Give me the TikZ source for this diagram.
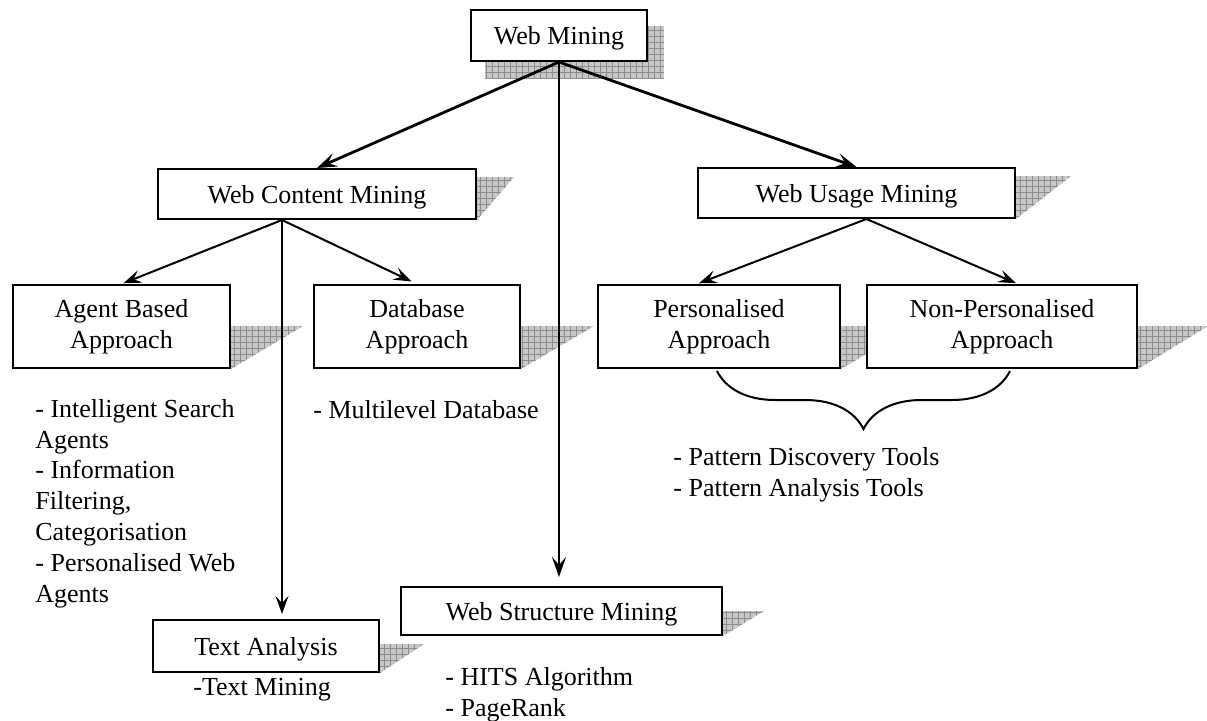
\documentclass[tikz,border=0pt]{standalone}
\usepackage{fontspec}
\setmainfont{Liberation Serif}
\usetikzlibrary{arrows.meta,calc,patterns,backgrounds,decorations.pathreplacing}

\begin{document}
\begin{tikzpicture}[
  x=0.5pt,y=-0.5pt,
  font=\fontsize{13}{15.4}\selectfont,
  bx/.style={draw,line width=1pt,fill=white,align=center,inner sep=0pt},
  bx1/.style={bx,text depth=0pt},
  sh/.style={preaction={fill=black!22},pattern=grid,pattern color=black!45},
  ar/.style={-{Stealth[length=10pt,width=7pt,inset=4pt]},line width=1.4pt},
  ar2/.style={-{Stealth[length=9pt,width=6.5pt,inset=3.5pt]},line width=1pt,shorten >=1pt},
  lst/.style={anchor=base west,align=left,inner sep=0pt},
  brc/.style={decorate,decoration={brace,mirror,amplitude=29pt},line width=1pt}]
\useasboundingbox (0,0) rectangle (1207,720);

% top
\node[bx1,minimum width=88pt,minimum height=25.5pt] (wm) at (559,35.5) {Web Mining};

% second level
\node[bx1,minimum width=159pt,minimum height=25pt] (wcm) at (317,194) {Web Content Mining};
\node[bx1,minimum width=158.5pt,minimum height=25pt] (wum) at (856.5,193) {Web Usage Mining};
\node[bx1,minimum width=160.5pt,minimum height=24pt] (wsm) at (561.5,611) {Web Structure Mining};

% approaches
\node[bx,minimum width=108.5pt,minimum height=41.5pt] (agent) at (121.5,326.5) {Agent Based\\Approach};
\node[bx,minimum width=103pt,minimum height=41.5pt] (db) at (417,326.5) {Database\\Approach};
\node[bx,minimum width=121pt,minimum height=41.5pt] (pers) at (719,326.5) {Personalised\\Approach};
\node[bx,minimum width=135pt,minimum height=41.5pt] (npers) at (1002,326.5) {Non-Personalised\\Approach};
\node[bx1,minimum width=113pt,minimum height=26pt] (ta) at (266,646) {Text Analysis};

% shadows
\begin{scope}[on background layer]
\fill[sh] ($(wm.north west)+(15,17)$) rectangle ($(wm.south east)+(16,16)$);
\foreach \n/\t/\r in {wcm/9/37,wum/9/55,agent/42/72,db/42/73,pers/42/72,npers/42/70,ta/25/44,wsm/25/41}
  \fill[sh] ($(\n.north east)+(0,\t)$) -- ++(\r,0) -- (\n.south east) -- cycle;
\end{scope}

% connectors
\coordinate (wcmout) at ($(wcm.south)+(-35,0)$);
\coordinate (wumout) at ($(wum.south)+(10,0)$);
\draw[ar] (wm.south) -- (wcm.north);
\draw[ar] (wm.south) -- (wum.north);
\draw[ar,shorten >=4.5pt] (wm.south) -- (wm.south |- wsm.north);
\draw[ar2] (wcmout) -- (agent.north);
\draw[ar2,shorten >=3pt] (wcmout) -- (db.north);
\draw[ar2,shorten >=2.5pt] (wcmout) -- (wcmout |- ta.north);
\draw[ar2] (wumout) -- ($(pers.north)+(-22,0)$);
\draw[ar2] (wumout) -- ($(npers.north)+(16,0)$);
\draw[brc] ($(pers.south)+(-2,2)$) -- ($(npers.south)+(8,2)$);

% lists (base = last line)
\node[lst] (agentl) at (35,602) {- Intelligent Search\\Agents\\- Information\\Filtering,\\Categorisation\\- Personalised Web\\Agents};
\node[lst] (dbl) at (313,418) {- Multilevel Database};
\node[lst] (patl) at (673,496) {- Pattern Discovery Tools\\- Pattern Analysis Tools};
\node[lst] (tal) at (193,695) {-Text Mining};
\node[lst] (wsml) at (445,716) {- HITS Algorithm\\- PageRank};
\end{tikzpicture}
\end{document}
